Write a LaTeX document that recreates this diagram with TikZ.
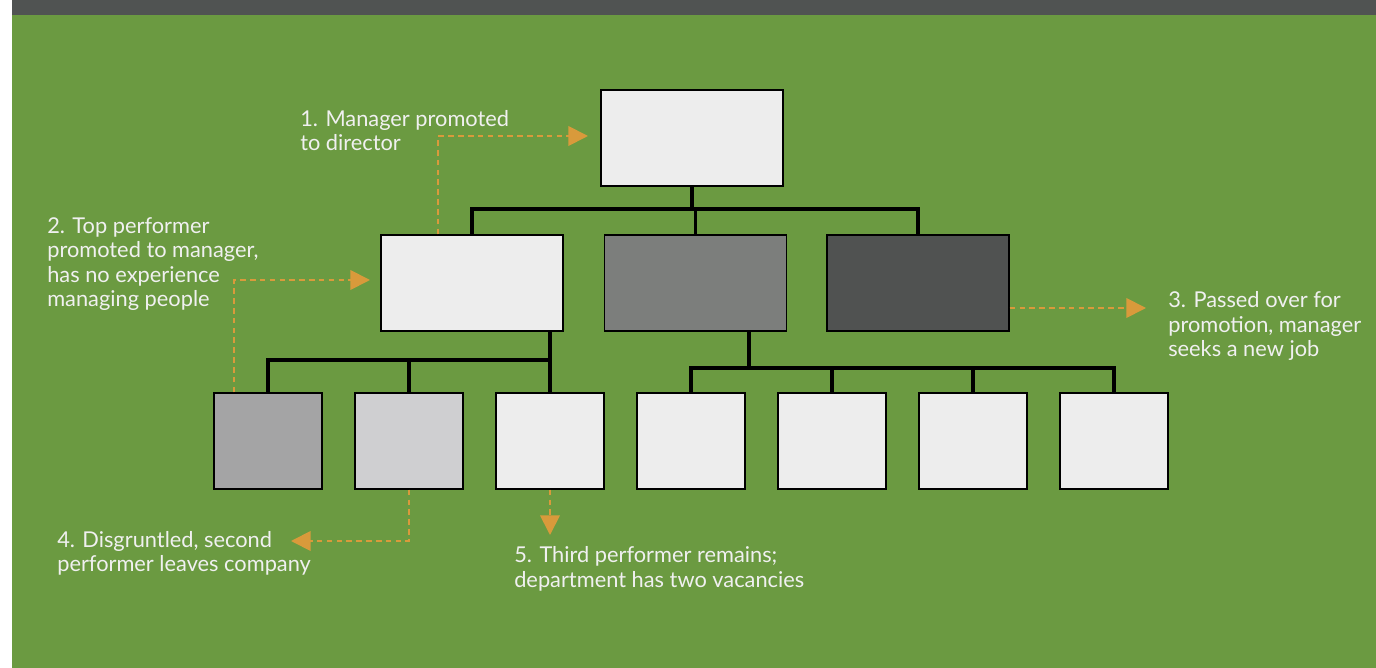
\documentclass[tikz,border=0pt]{standalone}
\usepackage{fontspec}
\setmainfont{Lato}
\usetikzlibrary{arrows.meta}

\definecolor{leaf}{HTML}{6B9A41}
\definecolor{slate}{HTML}{505352}
\definecolor{paper}{HTML}{EDEDED}
\definecolor{midgray}{HTML}{7C7E7C}
\definecolor{darkgray}{HTML}{505251}
\definecolor{stonegray}{HTML}{A4A4A5}
\definecolor{mistgray}{HTML}{CFCFD1}
\definecolor{amber}{HTML}{D99A3B}
\definecolor{chalk}{HTML}{F0F0F0}

\begin{document}
\begin{tikzpicture}[x=0.025cm, y=-0.025cm,
        wide/.style={draw=black, line width=1pt, inner sep=0pt, minimum width=4.55cm, minimum height=2.4cm},
        seat/.style={draw=black, line width=1pt, inner sep=0pt, minimum width=2.7cm, minimum height=2.4cm},
        tree/.style={black, line width=2.2pt},
        note/.style={amber, line width=1.3pt, dash pattern=on 4pt off 3pt, -{Triangle[length=14pt, width=14pt]}},
        story/.style={chalk, anchor=base west, inner sep=0pt, align=left, font=\fontsize{15.5}{17.5}\selectfont}]
        \useasboundingbox (0,0) rectangle (1376,668);
        \fill[white] (0,0) rectangle (1376,668);
        \fill[leaf] (12,15) rectangle (1376,668);
        \fill[slate] (12,0) rectangle (1376,15);

        % org chart
        \node[wide, fill=paper] (top) at (692,138) {};
        \node[wide, fill=paper] (mgrA) at (472,283) {};
        \node[wide, fill=midgray] (mgrB) at (695.5,283) {};
        \node[wide, fill=darkgray] (mgrC) at (918,283) {};

        \node[seat, fill=stonegray] (b1) at (268,441) {};
        \node[seat, fill=mistgray] (b2) at (409,441) {};
        \node[seat, fill=paper] (b3) at (550,441) {};
        \foreach \k in {4,...,7}
            \node[seat, fill=paper] (b\k) at (268+141*\k-141,441) {};

        \coordinate (bar1) at (0,209);
        \coordinate (bar2) at (0,360);
        \coordinate (bar3) at (749,368);

        \draw[tree] (top.south) -- (top.south |- bar1);
        \draw[tree] (mgrA.north) |- (mgrC.north |- bar1) -- (mgrC.north);
        \draw[tree] (mgrB.north) -- (mgrB.north |- bar1);

        \draw[tree] (b3.north) -- (b3.north |- mgrA.south);
        \draw[tree] (b1.north) |- (b3.north |- bar2);
        \draw[tree] (b2.north) -- (b2.north |- bar2);

        \draw[tree] (mgrB.south -| bar3) -- (bar3);
        \draw[tree] (b4.north) |- (b7.north |- bar3) -- (b7.north);
        \foreach \k in {5,6}
            \draw[tree] (b\k.north) -- (b\k.north |- bar3);

        % notes
        \coordinate (t1) at (588,136);
        \coordinate (t2) at (370,280);
        \coordinate (t3) at (1146,308);
        \coordinate (t4) at (291,541);
        \coordinate (t5) at (550,535);

        \draw[note] ([xshift=1.45cm]mgrA.north west) |- (t1);
        \draw[note] ([xshift=0.525cm]b1.north west) |- (t2);
        \draw[note] (mgrC.east |- t3) -- (t3);
        \draw[note] (b2.south) |- (t4);
        \draw[note] (b3.south) -- (t5);

        % base anchor sits on the last line
        \node[story] (s1) at (300,151) {1. Manager promoted\\to director};
        \node[story] (s2) at (47,307) {2. Top performer\\promoted to manager,\\has no experience\\managing people};
        \node[story] (s3) at (1168,357) {3. Passed over for\\promotion, manager\\seeks a new job};
        \node[story] (s4) at (57,572) {4. Disgruntled, second\\performer leaves company};
        \node[story] (s5) at (514,587) {5. Third performer remains;\\department has two vacancies};
\end{tikzpicture}
\end{document}
